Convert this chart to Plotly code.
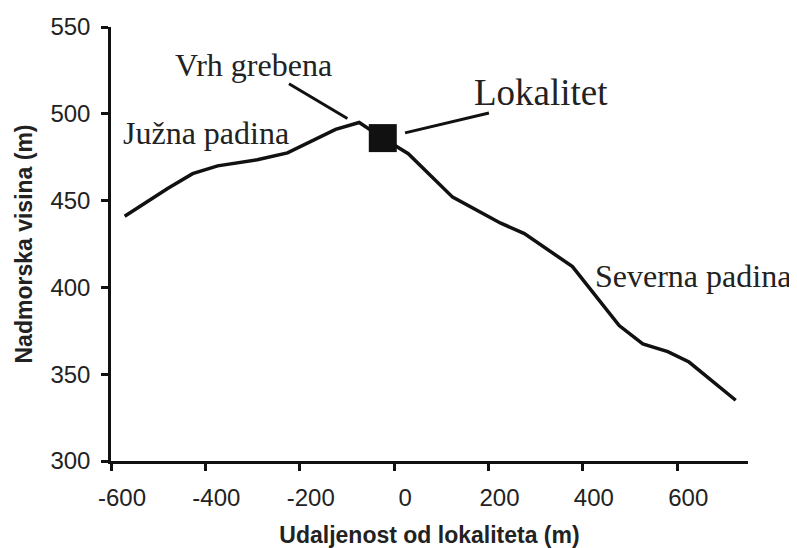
import plotly.graph_objects as go

# profil terena (udaljenost od lokaliteta u m, nadmorska visina u m)
distance = [-571, -480, -427, -374, -290, -226, -124, -74, -24, 30, 124, 226, 276, 378, 477, 527, 580, 625, 724]
elevation = [441, 457, 465.5, 470, 473.5, 477.5, 491, 495, 486, 477, 452, 437, 431, 412, 378, 367.5, 363, 357, 335]

site_x = [-24]
site_y = [486]

x_ticks = [-600, -400, -200, 0, 200, 400, 600]
x_ticktext = ["-600", "-400", "-200", "0", "200", "400", "600"]
y_ticks = [300, 350, 400, 450, 500, 550]

labels = ["Vrh grebena", "Južna padina", "Lokalitet", "Severna padina"]
label_x = [-299, -399, 311, 634]
label_y = [528, 489, 512, 406.5]
label_size = [32, 32, 37, 32]

# leader lines: (x_start, y_start, x_end, y_end)
leaders = [(-226, 517.8, -99, 497.3), (20, 488.8, 201, 500.5)]

trace = go.Scatter(x=distance, y=elevation, mode="lines",
                   line=dict(color="#111111", width=3.5), hoverinfo="x+y")
site = go.Scatter(x=site_x, y=site_y, mode="markers",
                  marker=dict(symbol="square", size=28, color="#111111"))

annotations = []
for t, x, y, s in zip(labels, label_x, label_y, label_size):
    annotations.append(dict(x=x, y=y, xref="x", yref="y", text=t, showarrow=False,
                            font=dict(family="Liberation Serif", size=s, color="#222222")))
for x0, y0, x1, y1 in leaders:
    annotations.append(dict(x=x1, y=y1, ax=x0, ay=y0, xref="x", yref="y",
                            axref="x", ayref="y", text="", showarrow=True,
                            arrowhead=0, arrowwidth=3, arrowcolor="#111111"))

axis_font = dict(family="Liberation Sans", size=24, color="#222222")
title_font = dict(family="Liberation Sans", size=23, color="#222222")

# page body has an 8px margin, so the figure is a bit smaller than the window
layout = go.Layout(
    width=789, height=540,
    margin=dict(l=103, r=49, t=19, b=87),
    paper_bgcolor="white", plot_bgcolor="white",
    showlegend=False,
    xaxis=dict(range=[-600, 750], tickvals=x_ticks, ticktext=x_ticktext,
               showgrid=False, zeroline=False, automargin=False,
               showline=True, linecolor="#111111", linewidth=2.5,
               ticks="outside", ticklen=7, tickwidth=2.5, tickcolor="#111111",
               tickfont=axis_font, ticklabelshift=11, ticklabelstandoff=6,
               title=dict(text="<b>Udaljenost od lokaliteta (m)</b>", font=title_font, standoff=21)),
    yaxis=dict(range=[300, 550], tickvals=y_ticks, showgrid=False, zeroline=False,
               automargin=False,
               showline=True, linecolor="#111111", linewidth=2.5,
               ticks="outside", ticklen=7, tickwidth=2.5, tickcolor="#111111",
               tickfont=axis_font, ticklabelstandoff=6,
               title=dict(text="<b>Nadmorska visina (m)</b>", font=title_font, standoff=12)),
    annotations=annotations,
)

fig = go.Figure(data=[trace, site], layout=layout)
fig.write_html("out.html")
